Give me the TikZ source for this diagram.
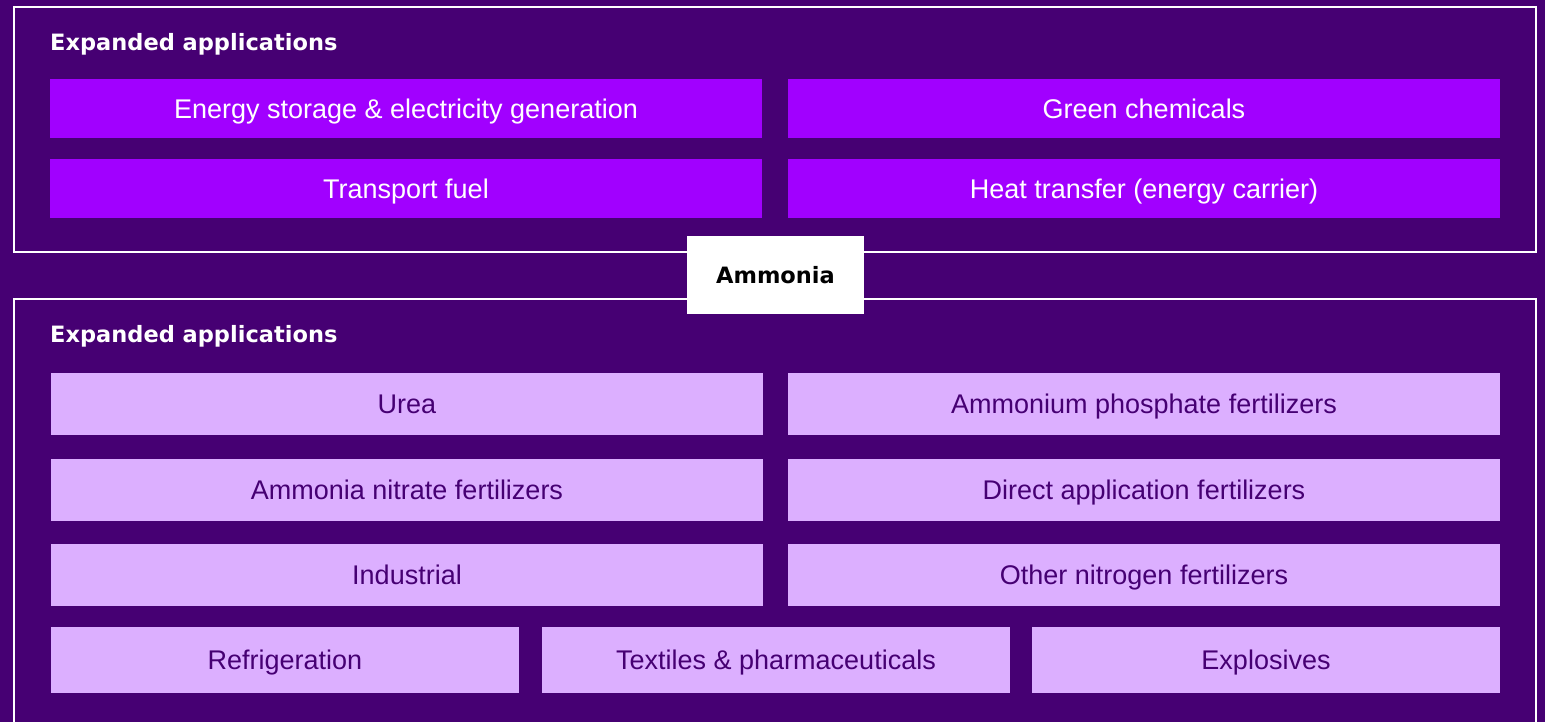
\documentclass[tikz,border=0pt]{standalone}
\usepackage{fontspec}
\setmainfont{Liberation Sans}
\newfontfamily\headfont{DejaVu Sans}
\usepackage{tikz}

\definecolor{deep}{HTML}{460073}
\definecolor{bright}{HTML}{A100FF}
\definecolor{pale}{HTML}{DCAFFF}

\tikzset{
  newuse/.style={fill=bright, text=white, minimum width=712pt, minimum height=59pt, inner sep=0pt, text height=19.3pt, text depth=0pt, font=\fontsize{27}{30}\selectfont},
  olduse/.style={fill=pale, text=deep, minimum width=712pt, minimum height=62pt, inner sep=0pt, text height=19.3pt, text depth=0pt, font=\fontsize{27}{30}\selectfont},
  frame/.style={draw=white, line width=2pt},
  heading/.style={anchor=base west, text=white, inner sep=0pt, font=\headfont\bfseries\fontsize{22.5}{26}\selectfont}
}

\begin{document}
\begin{tikzpicture}[x=1pt, y=-1pt]
\fill[deep] (0, 0) rectangle (1545, 722);
\useasboundingbox (0, 0) rectangle (1545, 722);
\draw[frame] (14, 7) rectangle (1536, 252);
\draw[frame] (14, 740) -- (14, 299) -- (1536, 299) -- (1536, 740);

\node[heading] (toptitle) at (50, 51) {Expanded applications};
\node[newuse] (energy) at (406, 109) {Energy storage \& electricity generation};
\node[newuse] (green) at (1144, 109) {Green chemicals};
\node[newuse] (fuel) at (406, 188.5) {Transport fuel};
\node[newuse] (heat) at (1144, 188.5) {Heat transfer (energy carrier)};

\node[fill=white, text=black, minimum width=177pt, minimum height=77pt, inner sep=0pt, text height=16.4pt, text depth=0pt, font=\headfont\bfseries\fontsize{22.5}{26}\selectfont] (ammonia) at (775.5, 275) {Ammonia};

\node[heading] (bottomtitle) at (50, 342) {Expanded applications};
\node[olduse] (urea) at (407, 404) {Urea};
\node[olduse] (phosphate) at (1144, 404) {Ammonium phosphate fertilizers};
\node[olduse] (nitrate) at (407, 490) {Ammonia nitrate fertilizers};
\node[olduse] (direct) at (1144, 490) {Direct application fertilizers};
\node[olduse] (industrial) at (407, 575) {Industrial};
\node[olduse] (other) at (1144, 575) {Other nitrogen fertilizers};
\node[olduse, minimum width=468pt, minimum height=66pt] (fridge) at (285, 660) {Refrigeration};
\node[olduse, minimum width=468pt, minimum height=66pt] (textiles) at (776, 660) {Textiles \& pharmaceuticals};
\node[olduse, minimum width=468pt, minimum height=66pt] (explosives) at (1266, 660) {Explosives};
\end{tikzpicture}
\end{document}
